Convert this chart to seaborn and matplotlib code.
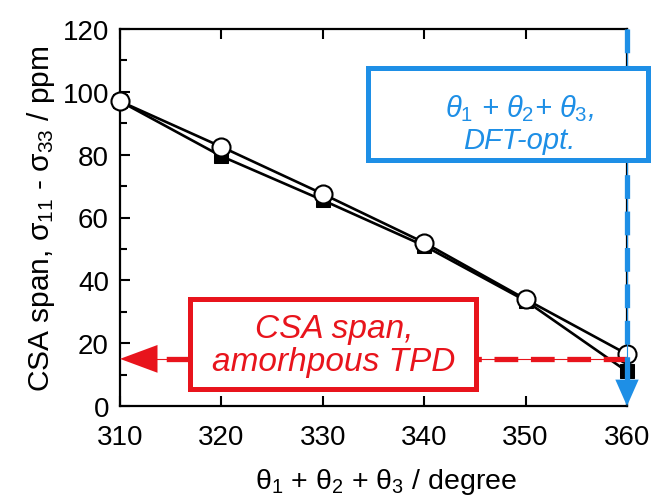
import matplotlib
matplotlib.use("Agg")
import matplotlib.pyplot as plt
import numpy as np
import pandas as pd
import seaborn as sns
from matplotlib.patches import Rectangle
from matplotlib.ticker import MultipleLocator

# Sum of the three dihedral angles (degree)
theta_sum = [310, 320, 330, 340, 350, 360]
# CSA span sigma11 - sigma33 (ppm) for the two calculation series
span_filled = [97.0, 79.5, 65.5, 51.0, 33.5, 11.0]
span_open = [97.0, 82.5, 67.5, 52.0, 34.0, 16.5]
# Experimental span of amorphous TPD and DFT-optimised angle sum
tpd_span = 15.0
dft_theta_sum = 360

x_ticks = [310, 320, 330, 340, 350, 360]
y_ticks = [0, 20, 40, 60, 80, 100, 120]

RED = "#e8141c"
BLUE = "#1e8fe6"

sns.set_theme(style="ticks")
plt.rcParams["font.family"] = ["Liberation Sans", "DejaVu Sans"]
plt.rcParams["mathtext.fontset"] = "custom"
plt.rcParams["mathtext.rm"] = "Liberation Sans"
plt.rcParams["mathtext.it"] = "Liberation Sans:italic"
plt.rcParams["mathtext.bf"] = "Liberation Sans:bold"
for key in ("text.color", "axes.labelcolor", "xtick.color", "ytick.color",
            "axes.edgecolor"):
    plt.rcParams[key] = "black"

W, H = 656, 502
fig = plt.figure(figsize=(W / 100, H / 100), dpi=100)
fig.patch.set_facecolor("white")
ax = fig.add_axes([120 / W, 1 - 407 / H, 507 / W, 377 / H])

df = pd.DataFrame({"theta": theta_sum, "filled": span_filled, "open": span_open})

sns.lineplot(data=df, x="theta", y="filled", ax=ax, color="black", lw=1.9,
             marker="s", markersize=10.5, markerfacecolor="black",
             markeredgecolor="black", clip_on=False, zorder=3)
sns.lineplot(data=df, x="theta", y="open", ax=ax, color="black", lw=1.9,
             marker="o", markersize=13, markerfacecolor="white",
             markeredgecolor="black", markeredgewidth=1.5,
             clip_on=False, zorder=4)

# Red arrow: experimental span pointing to the y axis
ax.plot([dft_theta_sum, 312], [tpd_span, tpd_span], color=RED, lw=0.8,
        clip_on=False, zorder=5)
ax.plot([dft_theta_sum, 313.6], [tpd_span, tpd_span], color=RED, lw=3.8,
        dashes=(4.5, 2.4), clip_on=False, zorder=5)
ax.annotate("", xy=(310, tpd_span), xytext=(314, tpd_span),
            arrowprops=dict(arrowstyle="-|>,head_length=1.35,head_width=0.5",
                            color=RED, lw=0, mutation_scale=20,
                            shrinkA=0, shrinkB=0),
            zorder=5, annotation_clip=False)

# Blue arrow: DFT-optimised angle sum pointing to the x axis
ax.plot([dft_theta_sum, dft_theta_sum], [120, 6], color=BLUE, lw=0.8,
        clip_on=False, zorder=5)
ax.plot([dft_theta_sum, dft_theta_sum], [120, 7], color=BLUE, lw=3.8,
        dashes=(4.5, 2.4), clip_on=False, zorder=5)
ax.annotate("", xy=(dft_theta_sum, 0), xytext=(dft_theta_sum, 10),
            arrowprops=dict(arrowstyle="-|>,head_length=0.95,head_width=0.42",
                            color=BLUE, lw=0, mutation_scale=20,
                            shrinkA=0, shrinkB=0),
            zorder=5, annotation_clip=False)

ax.set_xlim(310, 360)
ax.set_ylim(0, 120)
ax.set_xticks(x_ticks)
ax.set_yticks(y_ticks)
ax.yaxis.set_minor_locator(MultipleLocator(10))
ax.tick_params(axis="both", which="major", direction="in", length=7, width=1.5,
               labelsize=20, top=True, right=False, colors="black")
ax.tick_params(axis="x", which="major", pad=13)
ax.tick_params(axis="y", which="major", pad=8)
ax.tick_params(axis="y", which="minor", direction="in", length=5, width=1.5,
               left=True, right=False)
for s in ax.spines.values():
    s.set_linewidth(1.6)
    s.set_color("black")

ax.set_xlabel(r"θ$_1$ + θ$_2$ + θ$_3$ / degree", fontsize=20.5)
ax.xaxis.set_label_coords(0.524, -0.158)
ax.set_ylabel(r"CSA span, σ$_{11}$ - σ$_{33}$ / ppm", fontsize=21.5, labelpad=4)


def px_rect(x0, y0, x1, y1, color):
    return Rectangle((x0 / W, 1 - y1 / H), (x1 - x0) / W, (y1 - y0) / H,
                     transform=fig.transFigure, facecolor="white",
                     edgecolor=color, linewidth=3.6, zorder=10)


fig.add_artist(px_rect(189.5, 299.5, 475.5, 389.5, RED))
fig.text(334 / W, 1 - 346 / H, "CSA span,\namorhpous TPD", color=RED,
         fontsize=24, style="italic", ha="center", va="center",
         linespacing=1.1, zorder=11)

fig.add_artist(px_rect(367.5, 69.5, 647.5, 160.5, BLUE))
fig.text(519 / W, 1 - 124 / H,
         r"$\mathit{\theta_1}$ + $\mathit{\theta_2}$+ $\mathit{\theta_3}$," "\nDFT-opt.",
         color=BLUE, fontsize=21, style="italic", ha="center", va="center",
         linespacing=1.15, zorder=11)

fig.savefig("out.png", dpi=100, facecolor="white")
